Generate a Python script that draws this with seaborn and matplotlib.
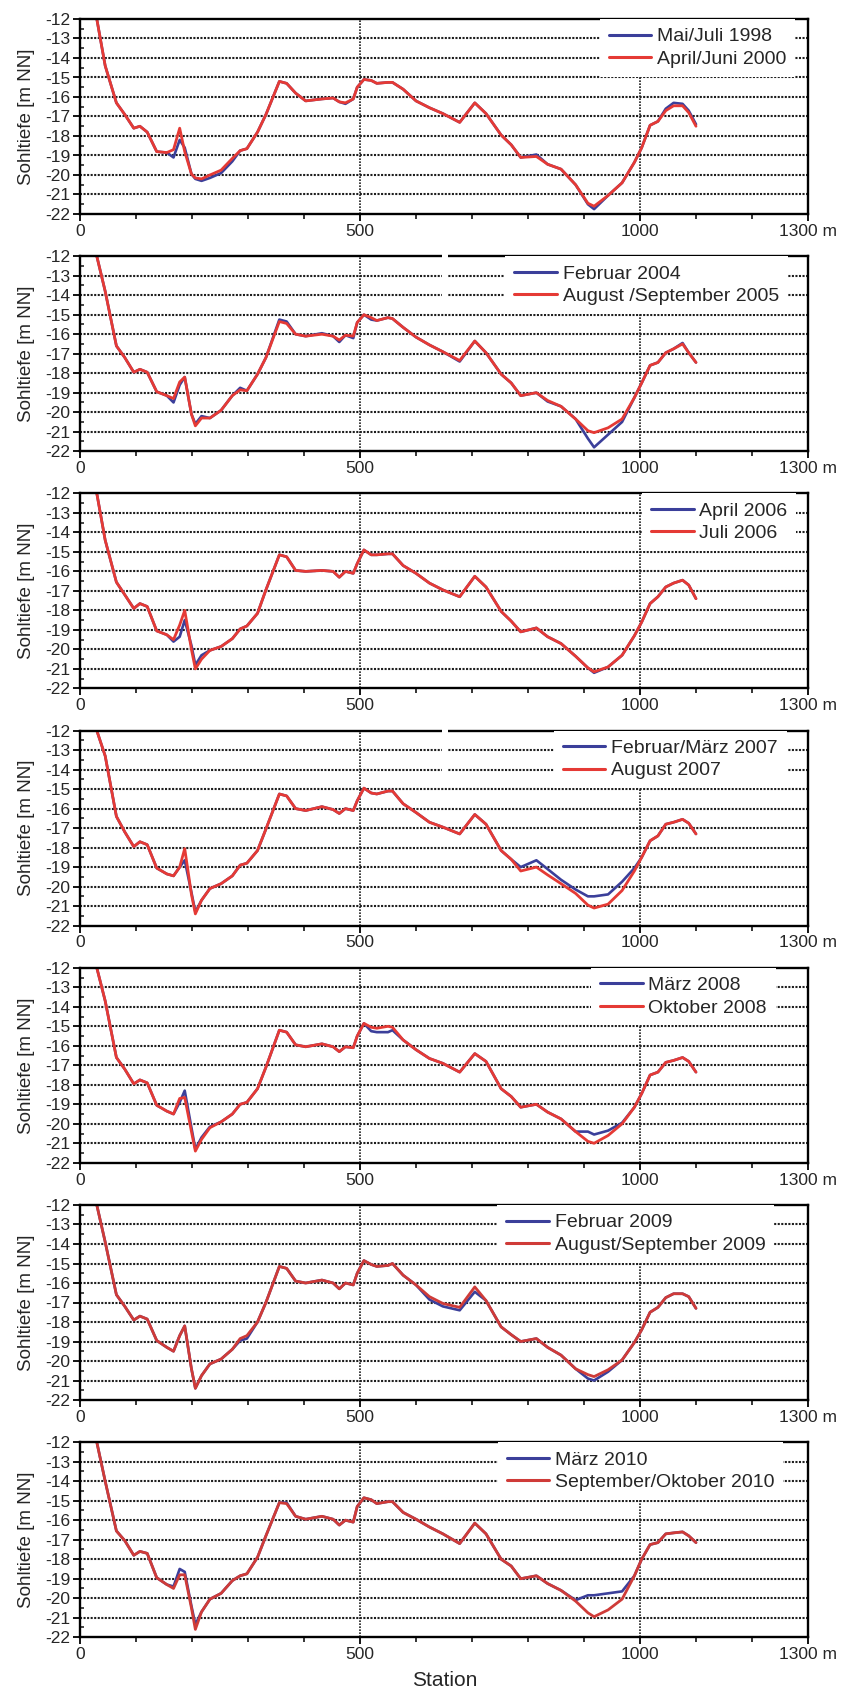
import matplotlib
matplotlib.use('Agg')
import matplotlib.pyplot as plt
from matplotlib.patches import Rectangle
from matplotlib.ticker import MultipleLocator, FixedLocator
import seaborn as sns

sns.set_style('ticks')
plt.rcParams['font.family'] = ['Liberation Sans', 'DejaVu Sans']
plt.rcParams['axes.unicode_minus'] = False

# Station [m]
stations = [30, 45, 65, 80, 96, 107, 120, 137, 155, 167, 178, 187, 199, 206, 217, 232,
            252, 272, 286, 298, 317, 332, 356, 369, 385, 403, 432, 452, 463, 474, 488, 495,
            507, 520, 530, 550, 558, 577, 600, 624, 648, 678, 705, 725, 752, 770, 787, 815,
            835, 859, 885, 907, 918, 943, 968, 990, 1003, 1018, 1032, 1046, 1060, 1076, 1087, 1100]

# Sohltiefe [m NN], je Panel zwei Aufnahmen
mai_juli_1998 = [-12.0, -14.4, -16.3, -16.9, -17.6, -17.5, -17.8, -18.8, -18.85, -19.1, -18.2, -18.6, -19.95, -20.2, -20.3, -20.15,
                 -19.9, -19.3, -18.75, -18.65, -17.8, -16.9, -15.2, -15.3, -15.8, -16.2, -16.1, -16.05, -16.25, -16.35, -16.1, -15.5,
                 -15.1, -15.15, -15.3, -15.25, -15.25, -15.6, -16.2, -16.55, -16.85, -17.3, -16.3, -16.85, -17.95, -18.45, -19.1, -18.95,
                 -19.45, -19.7, -20.5, -21.5, -21.75, -21.05, -20.4, -19.35, -18.6, -17.45, -17.25, -16.6, -16.3, -16.35, -16.7, -17.4]
april_juni_2000 = [-12.0, -14.4, -16.3, -16.9, -17.6, -17.5, -17.8, -18.8, -18.85, -18.7, -17.6, -18.8, -19.95, -20.15, -20.2, -20.0,
                   -19.75, -19.15, -18.75, -18.65, -17.8, -16.9, -15.2, -15.3, -15.8, -16.2, -16.1, -16.05, -16.25, -16.3, -16.1, -15.5,
                   -15.1, -15.15, -15.3, -15.25, -15.25, -15.6, -16.2, -16.55, -16.85, -17.3, -16.3, -16.85, -17.95, -18.45, -19.1, -19.05,
                   -19.45, -19.7, -20.5, -21.45, -21.6, -21.05, -20.4, -19.35, -18.6, -17.45, -17.25, -16.7, -16.45, -16.45, -16.8, -17.5]

februar_2004 = [-12.0, -13.8, -16.6, -17.2, -17.95, -17.8, -17.95, -18.95, -19.15, -19.5, -18.6, -18.2, -20.1, -20.6, -20.2, -20.3,
                -19.9, -19.15, -18.75, -18.9, -18.05, -17.2, -15.25, -15.35, -16.0, -16.1, -15.95, -16.1, -16.4, -16.05, -16.2, -15.4,
                -15.0, -15.25, -15.3, -15.15, -15.2, -15.65, -16.15, -16.55, -16.9, -17.4, -16.35, -16.95, -18.05, -18.5, -19.15, -19.0,
                -19.45, -19.7, -20.35, -21.35, -21.8, -21.15, -20.5, -19.25, -18.5, -17.6, -17.45, -16.95, -16.75, -16.45, -16.95, -17.45]
aug_sep_2005 = [-12.0, -13.8, -16.6, -17.2, -17.95, -17.8, -17.95, -18.95, -19.15, -19.3, -18.45, -18.2, -20.1, -20.7, -20.3, -20.3,
                -19.9, -19.15, -18.85, -18.9, -18.05, -17.2, -15.35, -15.45, -16.0, -16.1, -16.0, -16.1, -16.3, -16.05, -16.1, -15.4,
                -15.0, -15.15, -15.3, -15.15, -15.2, -15.65, -16.15, -16.55, -16.9, -17.35, -16.35, -16.95, -18.05, -18.5, -19.15, -19.0,
                -19.4, -19.7, -20.35, -20.95, -21.05, -20.8, -20.35, -19.25, -18.5, -17.6, -17.45, -16.95, -16.75, -16.5, -16.95, -17.45]

april_2006 = [-12.0, -14.4, -16.55, -17.2, -17.9, -17.65, -17.8, -19.05, -19.25, -19.6, -19.35, -18.5, -19.8, -20.8, -20.3, -20.05,
              -19.85, -19.45, -18.95, -18.8, -18.15, -16.95, -15.15, -15.25, -15.95, -16.0, -15.95, -16.0, -16.3, -16.0, -16.1, -15.6,
              -14.9, -15.15, -15.15, -15.1, -15.1, -15.7, -16.1, -16.6, -16.95, -17.3, -16.25, -16.8, -18.05, -18.55, -19.1, -18.9,
              -19.35, -19.7, -20.35, -20.95, -21.2, -20.9, -20.3, -19.3, -18.6, -17.65, -17.3, -16.8, -16.6, -16.45, -16.7, -17.4]
juli_2006 = [-12.0, -14.4, -16.55, -17.2, -17.9, -17.65, -17.8, -19.05, -19.25, -19.5, -18.75, -18.0, -20.0, -21.0, -20.5, -20.05,
             -19.85, -19.45, -18.95, -18.8, -18.15, -16.95, -15.15, -15.25, -15.95, -16.0, -15.95, -16.0, -16.3, -16.0, -16.1, -15.6,
             -14.9, -15.15, -15.15, -15.1, -15.1, -15.7, -16.1, -16.6, -16.95, -17.3, -16.25, -16.8, -18.05, -18.55, -19.1, -18.9,
             -19.35, -19.7, -20.35, -20.95, -21.15, -20.9, -20.3, -19.3, -18.6, -17.65, -17.3, -16.8, -16.6, -16.45, -16.7, -17.4]

feb_maerz_2007 = [-12.0, -13.3, -16.4, -17.2, -17.95, -17.7, -17.85, -19.05, -19.35, -19.45, -19.0, -18.65, -20.3, -21.3, -20.7, -20.1,
                  -19.85, -19.45, -18.9, -18.8, -18.15, -17.05, -15.25, -15.35, -16.0, -16.1, -15.9, -16.05, -16.25, -16.0, -16.1, -15.6,
                  -14.95, -15.2, -15.25, -15.1, -15.1, -15.75, -16.2, -16.7, -16.95, -17.3, -16.3, -16.8, -18.15, -18.6, -19.0, -18.65,
                  -19.1, -19.65, -20.15, -20.5, -20.5, -20.4, -19.75, -19.05, -18.5, -17.65, -17.4, -16.8, -16.7, -16.55, -16.75, -17.3]
august_2007 = [-12.0, -13.3, -16.4, -17.2, -17.95, -17.7, -17.85, -19.05, -19.35, -19.45, -19.0, -18.05, -20.4, -21.4, -20.7, -20.1,
               -19.85, -19.45, -18.9, -18.8, -18.15, -17.05, -15.25, -15.35, -16.0, -16.1, -15.9, -16.05, -16.25, -16.0, -16.1, -15.6,
               -14.95, -15.2, -15.25, -15.1, -15.1, -15.75, -16.2, -16.7, -16.95, -17.3, -16.3, -16.8, -18.15, -18.6, -19.2, -19.0,
               -19.4, -19.85, -20.35, -20.95, -21.1, -20.9, -20.2, -19.2, -18.5, -17.65, -17.4, -16.8, -16.7, -16.55, -16.75, -17.3]

maerz_2008 = [-12.0, -13.7, -16.6, -17.2, -17.95, -17.75, -17.9, -19.05, -19.35, -19.5, -18.9, -18.3, -20.2, -21.3, -20.7, -20.15,
              -19.9, -19.5, -19.0, -18.9, -18.2, -17.1, -15.2, -15.3, -15.95, -16.05, -15.9, -16.05, -16.3, -16.05, -16.1, -15.5,
              -14.85, -15.25, -15.3, -15.3, -15.2, -15.7, -16.2, -16.65, -16.9, -17.35, -16.4, -16.8, -18.2, -18.6, -19.15, -19.0,
              -19.4, -19.75, -20.4, -20.4, -20.55, -20.35, -19.95, -19.15, -18.45, -17.5, -17.35, -16.85, -16.75, -16.6, -16.8, -17.35]
oktober_2008 = [-12.0, -13.7, -16.6, -17.2, -17.95, -17.75, -17.9, -19.05, -19.35, -19.5, -18.7, -18.65, -20.4, -21.4, -20.8, -20.2,
                -19.9, -19.5, -19.0, -18.9, -18.2, -17.1, -15.2, -15.3, -15.95, -16.05, -15.9, -16.05, -16.3, -16.05, -16.1, -15.5,
                -14.85, -15.05, -15.1, -15.0, -15.05, -15.7, -16.2, -16.65, -16.9, -17.35, -16.4, -16.8, -18.2, -18.6, -19.15, -19.0,
                -19.4, -19.75, -20.4, -20.9, -21.0, -20.6, -20.0, -19.15, -18.45, -17.5, -17.35, -16.85, -16.75, -16.6, -16.8, -17.35]

februar_2009 = [-12.0, -13.9, -16.6, -17.2, -17.9, -17.7, -17.85, -18.95, -19.3, -19.5, -18.7, -18.2, -20.4, -21.4, -20.75, -20.15,
                -19.9, -19.4, -18.95, -18.85, -18.0, -17.0, -15.15, -15.25, -15.9, -16.0, -15.85, -16.0, -16.3, -16.0, -16.1, -15.5,
                -14.85, -15.05, -15.15, -15.1, -15.0, -15.6, -16.1, -16.85, -17.2, -17.4, -16.45, -16.9, -18.25, -18.65, -19.0, -18.85,
                -19.3, -19.7, -20.4, -20.9, -21.0, -20.55, -19.95, -19.05, -18.4, -17.5, -17.25, -16.75, -16.55, -16.55, -16.7, -17.3]
aug_sep_2009 = [-12.0, -13.9, -16.6, -17.2, -17.9, -17.7, -17.85, -18.95, -19.3, -19.5, -18.7, -18.2, -20.4, -21.4, -20.75, -20.15,
                -19.9, -19.4, -18.85, -18.7, -18.0, -17.0, -15.15, -15.25, -15.9, -16.0, -15.85, -16.0, -16.3, -16.0, -16.1, -15.5,
                -14.85, -15.05, -15.15, -15.1, -15.0, -15.6, -16.1, -16.7, -17.05, -17.25, -16.2, -16.9, -18.25, -18.65, -19.0, -18.85,
                -19.3, -19.7, -20.4, -20.7, -20.8, -20.45, -19.95, -19.05, -18.4, -17.5, -17.25, -16.75, -16.55, -16.55, -16.7, -17.3]

maerz_2010 = [-12.0, -14.0, -16.55, -17.05, -17.8, -17.6, -17.7, -18.95, -19.3, -19.4, -18.5, -18.65, -20.4, -21.35, -20.7, -20.05,
              -19.75, -19.1, -18.85, -18.75, -17.9, -16.8, -15.1, -15.1, -15.8, -15.95, -15.8, -15.95, -16.25, -16.0, -16.1, -15.3,
              -14.85, -14.95, -15.15, -15.05, -15.05, -15.6, -15.95, -16.35, -16.7, -17.2, -16.15, -16.7, -18.0, -18.35, -19.0, -18.85,
              -19.25, -19.6, -20.1, -19.85, -19.85, -19.75, -19.65, -18.85, -18.0, -17.25, -17.15, -16.7, -16.65, -16.6, -16.8, -17.15]
sep_okt_2010 = [-12.0, -14.0, -16.55, -17.05, -17.8, -17.6, -17.7, -18.95, -19.3, -19.5, -18.8, -18.8, -20.5, -21.6, -20.7, -20.05,
                -19.75, -19.1, -18.85, -18.75, -17.9, -16.8, -15.1, -15.15, -15.8, -15.95, -15.8, -15.95, -16.25, -16.0, -16.1, -15.3,
                -14.85, -14.95, -15.15, -15.05, -15.05, -15.6, -15.95, -16.35, -16.7, -17.2, -16.15, -16.7, -18.0, -18.35, -19.0, -18.85,
                -19.25, -19.6, -20.15, -20.75, -20.95, -20.6, -20.05, -18.85, -18.0, -17.25, -17.15, -16.7, -16.65, -16.6, -16.8, -17.15]

panels = [
    ('Mai/Juli 1998', mai_juli_1998, 'April/Juni 2000', april_juni_2000),
    ('Februar 2004', februar_2004, 'August /September 2005', aug_sep_2005),
    ('April 2006', april_2006, 'Juli 2006', juli_2006),
    ('Februar/März 2007', feb_maerz_2007, 'August 2007', august_2007),
    ('März 2008', maerz_2008, 'Oktober 2008', oktober_2008),
    ('Februar 2009', februar_2009, 'August/September 2009', aug_sep_2009),
    ('März 2010', maerz_2010, 'September/Oktober 2010', sep_okt_2010),
]

# Layout (Pixel im 843x1692 Bild)
legend_x = [0.714, 0.584, 0.772, 0.651, 0.702, 0.573, 0.574]
red_colors = ['#e53a35', '#e53a35', '#e53a35', '#e53a35', '#e53a35', '#cf3b38', '#cf3b38']
blue = '#3b3f9a'

W, H = 843, 1692
fig = plt.figure(figsize=(W / 100, H / 100), dpi=100)
fig.patch.set_facecolor('white')

left, width = 80, 728
top0, step, height = 19, 237.2, 195

for i, (lab_a, vals_a, lab_b, vals_b) in enumerate(panels):
    top = top0 + i * step
    ax = fig.add_axes([left / W, 1 - (top + height) / H, width / W, height / H])

    sns.lineplot(x=stations, y=vals_a, ax=ax, color=blue, lw=1.9, label=lab_a,
                 estimator=None, sort=False)
    sns.lineplot(x=stations, y=vals_b, ax=ax, color=red_colors[i], lw=2.0, label=lab_b,
                 estimator=None, sort=False)

    ax.set_xlim(0, 1300)
    ax.set_ylim(-22, -12)
    ax.xaxis.set_major_locator(FixedLocator([0, 500, 1000, 1300]))
    ax.set_xticklabels(['0', '500', '1000', '1300 m'])
    ax.xaxis.set_minor_locator(MultipleLocator(100))
    ax.set_yticks(range(-22, -11))
    ax.set_yticklabels([str(v) for v in range(-22, -11)])
    ax.yaxis.set_minor_locator(MultipleLocator(0.5))

    for v in range(-21, -12):
        ax.axhline(v, color='#1e1e1e', lw=1.5, ls=(0, (1, 0.7)), zorder=0.5)
    for v in [500, 1000]:
        ax.axvline(v, color='#1e1e1e', lw=1.2, ls=(0, (1, 0.8)), zorder=0.5)

    ax.tick_params(axis='both', which='major', direction='out', length=5, width=1.3,
                   labelsize=12.5, pad=2, color='black')
    ax.tick_params(axis='x', which='minor', direction='out', length=3.5, width=1.3)
    ax.tick_params(axis='y', which='minor', direction='in', length=3, width=1.2)
    for sp in ax.spines.values():
        sp.set_linewidth(1.7)
        sp.set_color('black')
        sp.set_visible(True)

    ax.set_xlabel('')
    ax.set_ylabel('Sohltiefe [m NN]', fontsize=13.5)
    ax.yaxis.set_label_coords(-0.062, 0.5)

    leg = ax.legend(loc='upper left', bbox_to_anchor=(legend_x[i], 1.0), borderaxespad=0,
                    frameon=True, framealpha=1, facecolor='white', edgecolor='none',
                    fancybox=False, fontsize=14, handlelength=2.2, handletextpad=0.3,
                    labelspacing=0.25, borderpad=0.45)
    for line in leg.get_lines():
        line.set_linewidth(2.2)

    # Scan-Luecke am oberen Rand in Panel 2 und 4
    if i in (1, 3):
        ax.add_patch(Rectangle((0.497, 0.75), 0.009, 0.27, transform=ax.transAxes,
                               facecolor='white', edgecolor='none', clip_on=False, zorder=5))

fig.text(445 / W, 1 - 1680 / H, 'Station', ha='center', va='center', fontsize=15)

fig.savefig('out.png', dpi=100, facecolor='white')
